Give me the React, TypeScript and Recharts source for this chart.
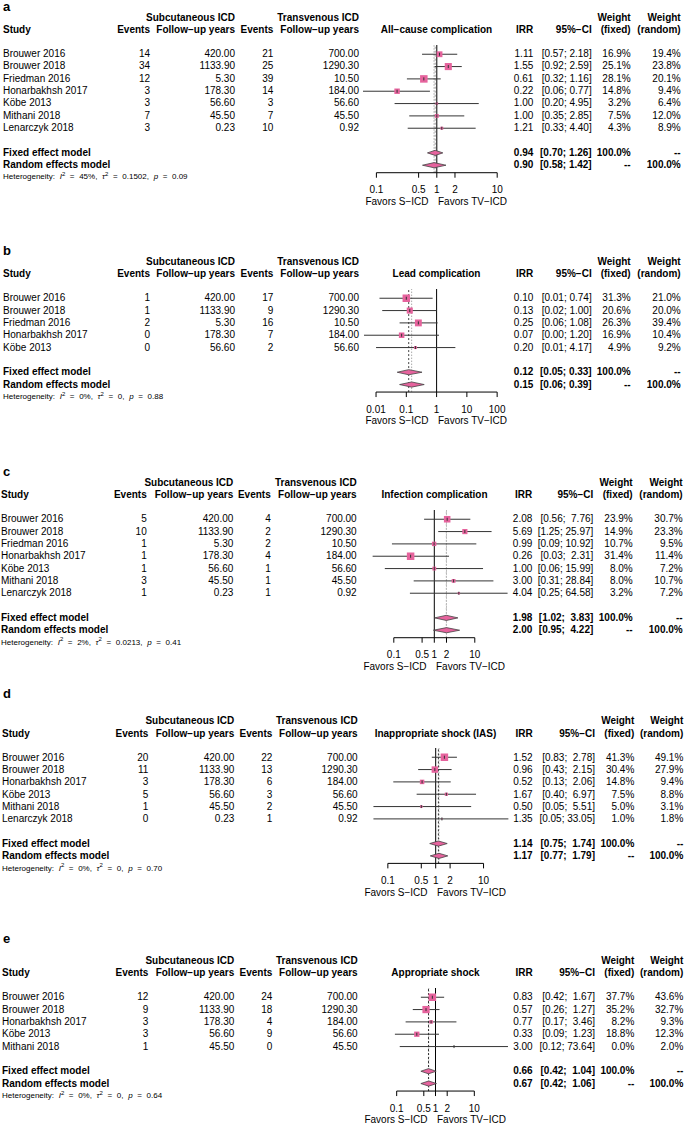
import React from "react";
import { ScatterChart, Scatter, XAxis, YAxis, ErrorBar, ReferenceLine } from "recharts";

// a – All-cause complication
const allCauseStudies = ["Brouwer 2016", "Brouwer 2018", "Friedman 2016", "Honarbakhsh 2017", "Köbe 2013", "Mithani 2018", "Lenarczyk 2018"];
const allCauseSEvents = [14, 34, 12, 3, 3, 7, 3];
const allCauseSYears = [420.0, 1133.9, 5.3, 178.3, 56.6, 45.5, 0.23];
const allCauseTEvents = [21, 25, 39, 14, 3, 7, 10];
const allCauseTYears = [700.0, 1290.3, 10.5, 184.0, 56.6, 45.5, 0.92];
const allCauseIrr = [1.11, 1.55, 0.61, 0.22, 1.0, 1.0, 1.21];
const allCauseLow = [0.57, 0.92, 0.32, 0.06, 0.2, 0.35, 0.33];
const allCauseHigh = [2.18, 2.59, 1.16, 0.77, 4.95, 2.85, 4.4];
const allCauseWFixed = [16.9, 25.1, 28.1, 14.8, 3.2, 7.5, 4.3];
const allCauseWRandom = [19.4, 23.8, 20.1, 9.4, 6.4, 12.0, 8.9];
const allCauseFixed = [0.94, 0.7, 1.26];
const allCauseRandom = [0.9, 0.58, 1.42];
const allCauseHet = ["45%", "0.1502", "0.09"];

// b – Lead complication
const leadStudies = ["Brouwer 2016", "Brouwer 2018", "Friedman 2016", "Honarbakhsh 2017", "Köbe 2013"];
const leadSEvents = [1, 1, 2, 0, 0];
const leadSYears = [420.0, 1133.9, 5.3, 178.3, 56.6];
const leadTEvents = [17, 9, 16, 7, 2];
const leadTYears = [700.0, 1290.3, 10.5, 184.0, 56.6];
const leadIrr = [0.1, 0.13, 0.25, 0.07, 0.2];
const leadLow = [0.013, 0.016, 0.06, 0.004, 0.01];
const leadHigh = [0.74, 1.0, 1.08, 1.2, 4.17];
const leadWFixed = [31.3, 20.6, 26.3, 16.9, 4.9];
const leadWRandom = [21.0, 20.0, 39.4, 10.4, 9.2];
const leadFixed = [0.12, 0.05, 0.33];
const leadRandom = [0.15, 0.06, 0.39];
const leadHet = ["0%", "0", "0.88"];

// c – Infection complication
const infStudies = ["Brouwer 2016", "Brouwer 2018", "Friedman 2016", "Honarbakhsh 2017", "Köbe 2013", "Mithani 2018", "Lenarczyk 2018"];
const infSEvents = [5, 10, 1, 1, 1, 3, 1];
const infSYears = [420.0, 1133.9, 5.3, 178.3, 56.6, 45.5, 0.23];
const infTEvents = [4, 2, 2, 4, 1, 1, 1];
const infTYears = [700.0, 1290.3, 10.5, 184.0, 56.6, 45.5, 0.92];
const infIrr = [2.08, 5.69, 0.99, 0.26, 1.0, 3.0, 4.04];
const infLow = [0.56, 1.25, 0.09, 0.03, 0.06, 0.31, 0.25];
const infHigh = [7.76, 25.97, 10.92, 2.31, 15.99, 28.84, 64.58];
const infWFixed = [23.9, 14.9, 10.7, 31.4, 8.0, 8.0, 3.2];
const infWRandom = [30.7, 23.3, 9.5, 11.4, 7.2, 10.7, 7.2];
const infFixed = [1.98, 1.02, 3.83];
const infRandom = [2.0, 0.95, 4.22];
const infHet = ["2%", "0.0213", "0.41"];

// d – Inappropriate shock (IAS)
const iasStudies = ["Brouwer 2016", "Brouwer 2018", "Honarbakhsh 2017", "Köbe 2013", "Mithani 2018", "Lenarczyk 2018"];
const iasSEvents = [20, 11, 3, 5, 1, 0];
const iasSYears = [420.0, 1133.9, 178.3, 56.6, 45.5, 0.23];
const iasTEvents = [22, 13, 6, 3, 2, 1];
const iasTYears = [700.0, 1290.3, 184.0, 56.6, 45.5, 0.92];
const iasIrr = [1.52, 0.96, 0.52, 1.67, 0.5, 1.35];
const iasLow = [0.83, 0.43, 0.13, 0.4, 0.05, 0.05];
const iasHigh = [2.78, 2.15, 2.06, 6.97, 5.51, 33.05];
const iasWFixed = [41.3, 30.4, 14.8, 7.5, 5.0, 1.0];
const iasWRandom = [49.1, 27.9, 9.4, 8.8, 3.1, 1.8];
const iasFixed = [1.14, 0.75, 1.74];
const iasRandom = [1.17, 0.77, 1.79];
const iasHet = ["0%", "0", "0.70"];

// e – Appropriate shock
const appStudies = ["Brouwer 2016", "Brouwer 2018", "Honarbakhsh 2017", "Köbe 2013", "Mithani 2018"];
const appSEvents = [12, 9, 3, 3, 1];
const appSYears = [420.0, 1133.9, 178.3, 56.6, 45.5];
const appTEvents = [24, 18, 4, 9, 0];
const appTYears = [700.0, 1290.3, 184.0, 56.6, 45.5];
const appIrr = [0.83, 0.57, 0.77, 0.33, 3.0];
const appLow = [0.42, 0.26, 0.17, 0.09, 0.12];
const appHigh = [1.67, 1.27, 3.46, 1.23, 73.64];
const appWFixed = [37.7, 35.2, 8.2, 18.8, 0.0];
const appWRandom = [43.6, 32.7, 9.3, 12.3, 2.0];
const appFixed = [0.66, 0.42, 1.04];
const appRandom = [0.67, 0.42, 1.06];
const appHet = ["0%", "0", "0.64"];

const ticksMain = [0.1, 0.5, 1, 2, 10];
const ticksLead = [0.01, 0.1, 1, 10, 100];

const FONT = '"Liberation Sans", Arial, Helvetica, sans-serif';
const PINK = "#e6639d";
const LINE = "#333";
const ROW = 12.33;
const M = 30;

type Panel = {
  letter: string;
  title: string;
  studies: string[];
  sEv: number[];
  sFy: number[];
  tEv: number[];
  tFy: number[];
  irr: number[];
  lo: number[];
  hi: number[];
  wf: number[];
  wr: number[];
  fixed: number[];
  random: number[];
  het: string[];
  ticks: number[];
  fixedCol: string;
};

const panels: Panel[] = [
  { letter: "a", title: "All\u2212cause complication", studies: allCauseStudies, sEv: allCauseSEvents, sFy: allCauseSYears, tEv: allCauseTEvents, tFy: allCauseTYears, irr: allCauseIrr, lo: allCauseLow, hi: allCauseHigh, wf: allCauseWFixed, wr: allCauseWRandom, fixed: allCauseFixed, random: allCauseRandom, het: allCauseHet, ticks: ticksMain, fixedCol: "#999" },
  { letter: "b", title: "Lead complication", studies: leadStudies, sEv: leadSEvents, sFy: leadSYears, tEv: leadTEvents, tFy: leadTYears, irr: leadIrr, lo: leadLow, hi: leadHigh, wf: leadWFixed, wr: leadWRandom, fixed: leadFixed, random: leadRandom, het: leadHet, ticks: ticksLead, fixedCol: "#444" },
  { letter: "c", title: "Infection complication", studies: infStudies, sEv: infSEvents, sFy: infSYears, tEv: infTEvents, tFy: infTYears, irr: infIrr, lo: infLow, hi: infHigh, wf: infWFixed, wr: infWRandom, fixed: infFixed, random: infRandom, het: infHet, ticks: ticksMain, fixedCol: "#bbb" },
  { letter: "d", title: "Inappropriate shock (IAS)", studies: iasStudies, sEv: iasSEvents, sFy: iasSYears, tEv: iasTEvents, tFy: iasTYears, irr: iasIrr, lo: iasLow, hi: iasHigh, wf: iasWFixed, wr: iasWRandom, fixed: iasFixed, random: iasRandom, het: iasHet, ticks: ticksMain, fixedCol: "#333" },
  { letter: "e", title: "Appropriate shock", studies: appStudies, sEv: appSEvents, sFy: appSYears, tEv: appTEvents, tFy: appTYears, irr: appIrr, lo: appLow, hi: appHigh, wf: appWFixed, wr: appWRandom, fixed: appFixed, random: appRandom, het: appHet, ticks: ticksMain, fixedCol: "#333" },
];

// column right edges (study = left edge)
const colsAB = { study: 3, ev1: 150, fy1: 235, ev2: 273.3, fy2: 359, irr: 533.3, ci: 591.7, wf: 630.7, wr: 680.7 };
const colsC = { study: 1, ev1: 146.7, fy1: 233.3, ev2: 270.7, fy2: 356.7, irr: 532.3, ci: 593.3, wf: 632.7, wr: 682.7 };
const colsDE = { study: 2, ev1: 148.3, fy1: 234.3, ev2: 272.3, fy2: 357.7, irr: 532.7, ci: 595, wf: 634.3, wr: 683.3 };

const layouts = [
  { letterY: 11, row0: 54, cols: colsAB, plotLeft: 362.7, plotW: 147.6 },
  { letterY: 255, row0: 298.3, cols: colsAB, plotLeft: 363.9, plotW: 145.2 },
  { letterY: 476, row0: 519.3, cols: colsC, plotLeft: 361.2, plotW: 146.6 },
  { letterY: 698, row0: 757.7, cols: colsDE, plotLeft: 362.8, plotW: 145.4 },
  { letterY: 943, row0: 997.3, cols: colsDE, plotLeft: 363, plotW: 145 },
];

// text placed by baseline
function T({ x, y, a = "l", s = 10, b = false, children, style }: any) {
  const base: React.CSSProperties = {
    position: "absolute",
    top: y - 0.8465 * s,
    fontSize: s,
    lineHeight: `${s}px`,
    fontWeight: b ? "bold" : "normal",
    whiteSpace: "pre",
    ...style,
  };
  if (a === "r") return <div style={{ ...base, left: x - 300, width: 300, textAlign: "right" }}>{children}</div>;
  if (a === "c") return <div style={{ ...base, left: x - 150, width: 300, textAlign: "center" }}>{children}</div>;
  return <div style={{ ...base, left: x }}>{children}</div>;
}

const squareShape = (maxW: number) => (props: any) => {
  const { cx, cy } = props;
  const w = props.payload?.w ?? props.w ?? 0;
  const s = 7.5 * Math.sqrt(w / maxW);
  return (
    <g>
      {s > 0 && <rect x={cx - s / 2} y={cy - s / 2} width={s} height={s} fill={PINK} />}
      <line x1={cx} x2={cx} y1={cy - 1.5} y2={cy + 1.5} stroke={LINE} strokeWidth={1} />
    </g>
  );
};

const noShape = () => <g />;

const diamondLine = (props: any) => {
  const pts = (props.points || []).map((q: any) => `${q.x},${q.y}`).join(" ");
  return <polygon points={pts} fill={PINK} stroke="#444" strokeWidth={0.8} />;
};

function Sup({ children }: any) {
  return <span style={{ fontSize: 6, position: "relative", top: -3.5 }}>{children}</span>;
}

function ForestPanel({ p, L }: { p: Panel; L: any }) {
  const n = p.studies.length;
  const C = L.cols;
  const rowY = (i: number) => L.row0 + i * ROW + 3.6;
  const h1 = L.row0 - 36.6 + 3.6;
  const h2 = L.row0 - 24 + 3.6;
  const plotTop = L.row0 - 0.75 * ROW;
  const yMax = n + 2 + 7.5 / ROW;
  const plotH = (yMax + 0.75) * ROW;
  const axisY = plotTop + plotH;
  const mid = L.plotLeft + L.plotW / 2;

  const ext = Math.max(...p.lo.map((v) => Math.abs(Math.log10(v))), ...p.hi.map((v) => Math.abs(Math.log10(v))));
  const domain = [Math.pow(10, -ext), Math.pow(10, ext)];

  const allLo = [...p.lo, p.fixed[1], p.random[1]].map((v) => v.toFixed(2));
  const allHi = [...p.hi, p.fixed[2], p.random[2]].map((v) => v.toFixed(2));
  const loW = Math.max(...allLo.map((s) => s.length));
  const hiW = Math.max(...allHi.map((s) => s.length));
  const ci = (lo: number, hi: number) => `[${lo.toFixed(2).padStart(loW, " ")}; ${hi.toFixed(2).padStart(hiW, " ")}]`;

  const maxW = Math.max(...p.wf);
  const studyData = p.studies.map((name, i) => ({
    x: p.irr[i],
    y: i,
    w: p.wf[i],
    err: [p.irr[i] - p.lo[i], p.hi[i] - p.irr[i]],
  }));
  const diamond = (v: number[], r: number) => [
    { x: v[1], y: r },
    { x: v[0], y: r - 0.21 },
    { x: v[2], y: r },
    { x: v[0], y: r + 0.21 },
  ];
  const fixedDiamond = diamond(p.fixed, n + 1);
  const randomDiamond = diamond(p.random, n + 2);
  const t0 = p.ticks[0];
  const t1 = p.ticks[p.ticks.length - 1];

  return (
    <>
      <T x={3} y={L.letterY} s={13} b>{p.letter}</T>
      {/* header */}
      <T x={C.fy1} y={h1} a="r" b>Subcutaneous ICD</T>
      <T x={C.fy2} y={h1} a="r" b>Transvenous ICD</T>
      <T x={C.wf} y={h1} a="r" b>Weight</T>
      <T x={C.wr} y={h1} a="r" b>Weight</T>
      <T x={C.study} y={h2} b>Study</T>
      <T x={C.ev1} y={h2} a="r" b>Events</T>
      <T x={C.fy1} y={h2} a="r" b>Follow{"\u2212"}up years</T>
      <T x={C.ev2} y={h2} a="r" b>Events</T>
      <T x={C.fy2} y={h2} a="r" b>Follow{"\u2212"}up years</T>
      <T x={mid} y={h2} a="c" b>{p.title}</T>
      <T x={C.irr} y={h2} a="r" b>IRR</T>
      <T x={C.ci} y={h2} a="r" b>95%{"\u2212"}CI</T>
      <T x={C.wf} y={h2} a="r" b>(fixed)</T>
      <T x={C.wr} y={h2} a="r" b>(random)</T>

      {/* study rows */}
      {p.studies.map((name, i) => (
        <React.Fragment key={name}>
          <T x={C.study} y={rowY(i)}>{name}</T>
          <T x={C.ev1} y={rowY(i)} a="r">{String(p.sEv[i])}</T>
          <T x={C.fy1} y={rowY(i)} a="r">{p.sFy[i].toFixed(2)}</T>
          <T x={C.ev2} y={rowY(i)} a="r">{String(p.tEv[i])}</T>
          <T x={C.fy2} y={rowY(i)} a="r">{p.tFy[i].toFixed(2)}</T>
          <T x={C.irr} y={rowY(i)} a="r">{p.irr[i].toFixed(2)}</T>
          <T x={C.ci} y={rowY(i)} a="r">{ci(p.lo[i], p.hi[i])}</T>
          <T x={C.wf} y={rowY(i)} a="r">{p.wf[i].toFixed(1) + "%"}</T>
          <T x={C.wr} y={rowY(i)} a="r">{p.wr[i].toFixed(1) + "%"}</T>
        </React.Fragment>
      ))}

      {/* pooled */}
      <T x={C.study} y={rowY(n + 1)} b>Fixed effect model</T>
      <T x={C.irr} y={rowY(n + 1)} a="r" b>{p.fixed[0].toFixed(2)}</T>
      <T x={C.ci} y={rowY(n + 1)} a="r" b>{ci(p.fixed[1], p.fixed[2])}</T>
      <T x={C.wf} y={rowY(n + 1)} a="r" b>100.0%</T>
      <T x={C.wr} y={rowY(n + 1)} a="r" b>--</T>
      <T x={C.study} y={rowY(n + 2)} b>Random effects model</T>
      <T x={C.irr} y={rowY(n + 2)} a="r" b>{p.random[0].toFixed(2)}</T>
      <T x={C.ci} y={rowY(n + 2)} a="r" b>{ci(p.random[1], p.random[2])}</T>
      <T x={C.wf} y={rowY(n + 2)} a="r" b>--</T>
      <T x={C.wr} y={rowY(n + 2)} a="r" b>100.0%</T>
      <T x={C.study} y={L.row0 + (n + 3) * ROW + 2.9} s={8} style={{ wordSpacing: 2.4 }}>
        Heterogeneity: <i>I</i><Sup>2</Sup> = {p.het[0]}, <i>τ</i><Sup>2</Sup> = {p.het[1]}, <i>p</i> = {p.het[2]}
      </T>

      {/* favours labels */}
      <T x={mid - 8} y={axisY + 32.6} a="r">Favors S{"\u2212"}ICD</T>
      <T x={mid + 1.5} y={axisY + 32.6}>Favors TV{"\u2212"}ICD</T>

      <div style={{ position: "absolute", left: L.plotLeft - M, top: plotTop }}>
        <ScatterChart width={L.plotW + 2 * M} height={plotH + 45} margin={{ top: 0, right: M, bottom: 0, left: M }}>
          <XAxis
            type="number"
            dataKey="x"
            scale="log"
            domain={domain}
            allowDataOverflow
            ticks={p.ticks}
            interval={0}
            axisLine={false}
            stroke="#000"
            tickSize={5}
            tickMargin={8.5}
            tickLine={{ stroke: "#000" }}
            tick={{ fontSize: 10, fill: "#000", fontFamily: FONT }}
            tickFormatter={(v: number) => String(v)}
            height={45}
          />
          <YAxis type="number" dataKey="y" domain={[-0.75, yMax]} reversed hide allowDataOverflow />
          <ReferenceLine x={p.random[0]} stroke="#aaa" strokeDasharray="1.5 1.5" ifOverflow="visible" />
          <ReferenceLine x={p.fixed[0]} stroke={p.fixedCol} strokeDasharray="2 2" ifOverflow="visible" />
          <ReferenceLine x={1} stroke="#000" strokeWidth={1} ifOverflow="visible" />
          <ReferenceLine
            segment={[{ x: t0, y: yMax }, { x: t1, y: yMax }]}
            stroke="#000"
            strokeWidth={1}
            ifOverflow="visible"
          />
          <Scatter data={studyData} shape={squareShape(maxW)} isAnimationActive={false}>
            <ErrorBar dataKey="err" direction="x" width={0} stroke={LINE} strokeWidth={1} isAnimationActive={false} />
          </Scatter>
          <Scatter data={fixedDiamond} shape={noShape} line={diamondLine} lineType="joint" isAnimationActive={false} />
          <Scatter data={randomDiamond} shape={noShape} line={diamondLine} lineType="joint" isAnimationActive={false} />
        </ScatterChart>
      </div>
    </>
  );
}

export default function App() {
  return (
    <div
      style={{
        position: "relative",
        width: 685,
        height: 1125,
        background: "#fff",
        fontFamily: FONT,
        color: "#000",
        overflow: "hidden",
      }}
    >
      <style>{"body{margin:0}"}</style>
      {panels.map((p, i) => (
        <ForestPanel key={p.letter} p={p} L={layouts[i]} />
      ))}
    </div>
  );
}
